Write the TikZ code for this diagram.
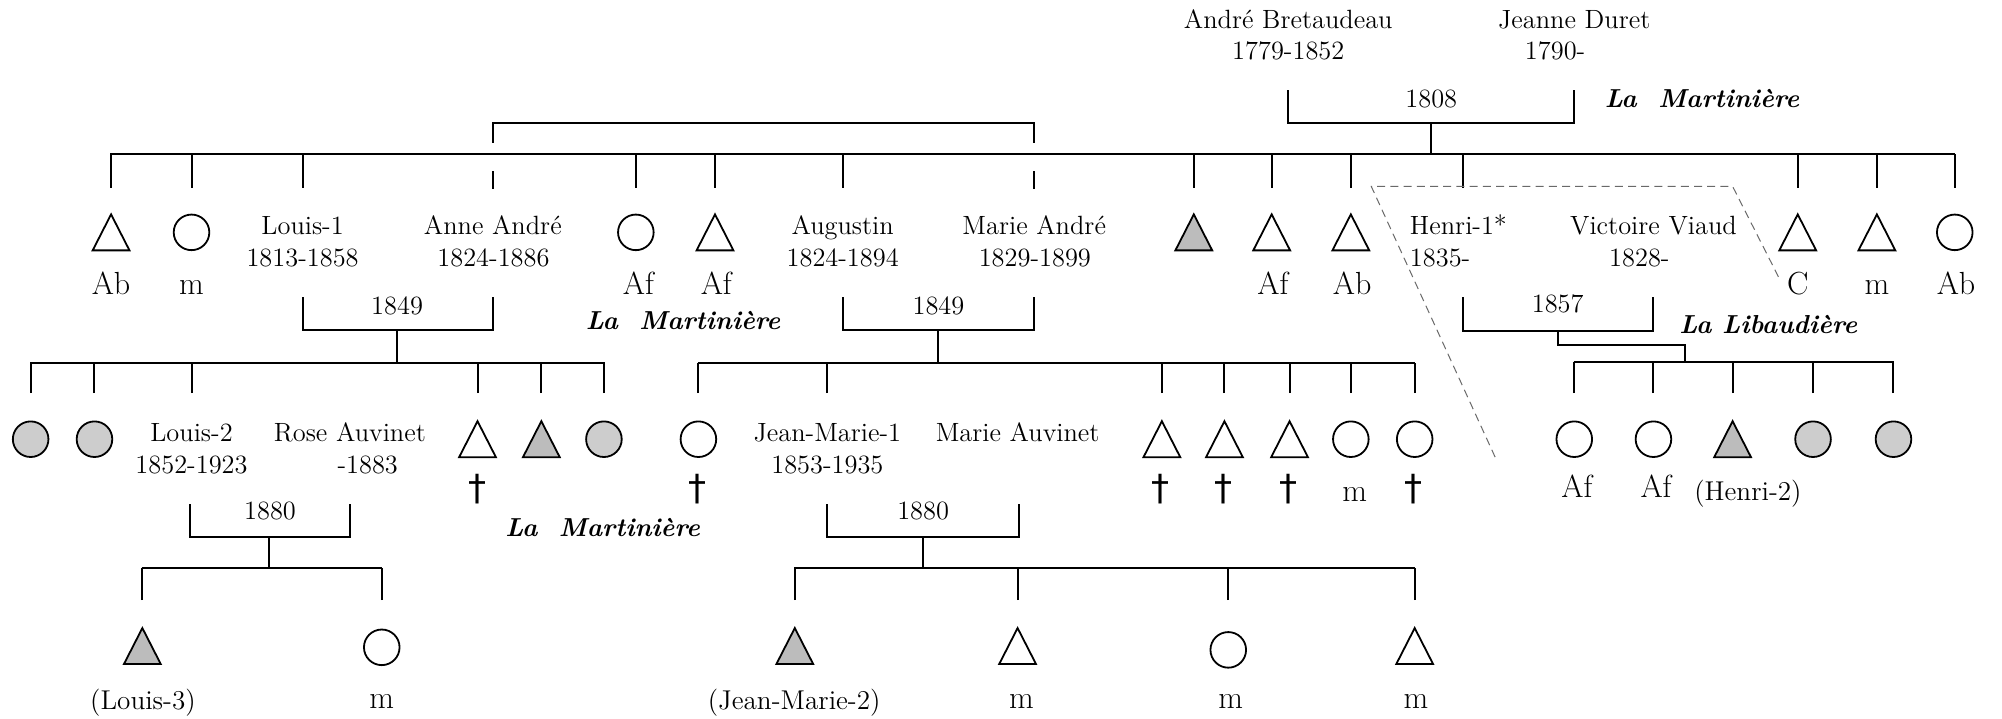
\documentclass[tikz,border=0pt]{standalone}
\usepackage{fontspec}
\newfontfamily\dagfont{DejaVu Sans}
\definecolor{cgray}{RGB}{205,205,205}
\definecolor{sgray}{RGB}{188,188,188}
\definecolor{dgray}{RGB}{105,105,105}
\begin{document}
\begin{tikzpicture}[x=0.6384pt,y=-0.6384pt,
  conn/.style={line width=1pt},
  nm/.style={font=\fontsize{13.2}{16}\selectfont, inner sep=0, anchor=base},
  nmw/.style={nm, anchor=base west},
  lbl/.style={font=\fontsize{16}{19}\selectfont, inner sep=0, anchor=base},
  sml/.style={font=\fontsize{13.6}{16}\selectfont, inner sep=0, anchor=base},
  place/.style={font=\fontsize{13}{16}\selectfont\bfseries\itshape, inner sep=0, anchor=base},
  circ/.style={circle, draw, line width=0.9pt, minimum size=17.8pt, inner sep=0},
  gcirc/.style={circ, fill=cgray},
  trinode/.style={minimum width=18pt, minimum height=17.6pt, inner sep=0},
  triline/.style={line width=0.9pt},
  dag/.style={font=\dagfont\fontsize{18}{18}\selectfont, inner sep=0},
  dashline/.style={dgray, line width=0.5pt, dash pattern=on 4pt off 2.6pt},
]
\useasboundingbox (0,0) rectangle (1568,563);

% ---------- generation 0 ----------
\node[nm] (ab1) at (1009,22) {André Bretaudeau};
\node[nm] (ab2) at (1009,47) {1779-1852};
\node[nm] (jd1) at (1233,22) {Jeanne Duret};
\node[nm] (jd2) at (1218,47) {1790-};
\coordinate (m0l) at (1009,70.5); \coordinate (m0bl) at (1009,96);
\coordinate (m0r) at (1233,70.5); \coordinate (m0br) at (1233,96);
\draw[conn] (m0l) -- (m0bl) -- (m0br) -- (m0r);
\node[nm] (y1808) at (1121,84) {1808};
\node[place] (pl1) at (1333,84) {La\ \ Martinière};
\coordinate (m0c) at (1121,96); \coordinate (s0) at (1121,121);
\draw[conn] (m0c) -- (s0);

% main sibling line
\coordinate (s0L) at (86.5,121); \coordinate (s0R) at (1531.5,121);
\draw[conn] (s0L) -- (s0R);
\foreach \x in {87,150,237,498,560,660,935,996,1058,1146,1408,1470,1531}{
  \coordinate (d1-\x) at (\x,147);
  \draw[conn] (d1-\x) -- (d1-\x |- s0);
}
% bracket linking the two André sisters
\coordinate (tb1) at (386,96); \coordinate (tb1e) at (386,112);
\coordinate (tb1f) at (386,134); \coordinate (tb1g) at (386,148);
\coordinate (tb2) at (810,96); \coordinate (tb2e) at (810,112);
\coordinate (tb2f) at (810,134); \coordinate (tb2g) at (810,148);
\draw[conn] (tb1e) -- (tb1) -- (tb2) -- (tb2e);
\draw[conn] (tb1f) -- (tb1g);
\draw[conn] (tb2f) -- (tb2g);

% ---------- generation 1 ----------
\node[trinode] (t1a) at (87,182) {};
\node[circ] (c1b) at (150,182) {};
\node[circ] (c1c) at (498,182) {};
\node[trinode] (t1d) at (560,182) {};
\node[trinode] (t1e) at (935,182) {};
\node[trinode] (t1f) at (996,182) {};
\node[trinode] (t1g) at (1058,182) {};
\node[trinode] (t1h) at (1408,182) {};
\node[trinode] (t1i) at (1470,182) {};
\node[circ] (c1j) at (1531,182) {};
\foreach \n in {t1a,t1d,t1f,t1g,t1h,t1i}
  \draw[triline] (\n.south west) -- (\n.south east) -- (\n.north) -- cycle;
\draw[triline, fill=sgray] (t1e.south west) -- (t1e.south east) -- (t1e.north) -- cycle;

\node[lbl] (l1a) at (87,231) {Ab};
\node[lbl] (l1b) at (150,231) {m};
\node[lbl] (l1c) at (500,231) {Af};
\node[lbl] (l1d) at (561,231) {Af};
\node[lbl] (l1f) at (997,231) {Af};
\node[lbl] (l1g) at (1059,231) {Ab};
\node[lbl] (l1h) at (1408,231) {C};
\node[lbl] (l1i) at (1470,231) {m};
\node[lbl] (l1j) at (1532,231) {Ab};

\node[nm] (n1a) at (237,184) {Louis-1};
\node[nm] (n1a2) at (237,209) {1813-1858};
\node[nm] (n1b) at (386,184) {Anne André};
\node[nm] (n1b2) at (386.5,209) {1824-1886};
\node[nm] (n1c) at (660,184) {Augustin};
\node[nm] (n1c2) at (660,209) {1824-1894};
\node[nm] (n1d) at (810,184) {Marie André};
\node[nm] (n1d2) at (810.5,209) {1829-1899};
\node[nmw] (n1e) at (1104,184) {Henri-1*};
\node[nmw] (n1e2) at (1104,209) {1835-};
\node[nm] (n1f) at (1295,184) {Victoire Viaud};
\node[nm] (n1f2) at (1284,209) {1828-};

% marriage brackets
\coordinate (b1a) at (237,233); \coordinate (b1b) at (237,258.5);
\coordinate (b1c) at (386,258.5); \coordinate (b1d) at (386,233);
\draw[conn] (b1a) -- (b1b) -- (b1c) -- (b1d);
\node[nm] (y1849a) at (311,246) {1849};
\coordinate (b1m) at (311,258.5); \coordinate (s1) at (311,284);
\draw[conn] (b1m) -- (s1);

\coordinate (b2a) at (660,233); \coordinate (b2b) at (660,258.5);
\coordinate (b2c) at (810,258.5); \coordinate (b2d) at (810,233);
\draw[conn] (b2a) -- (b2b) -- (b2c) -- (b2d);
\node[nm] (y1849b) at (735,246) {1849};
\coordinate (b2m) at (735,258.5); \coordinate (s2) at (735,284);
\draw[conn] (b2m) -- (s2);

\coordinate (b3a) at (1146,233); \coordinate (b3b) at (1146,259);
\coordinate (b3c) at (1295,259); \coordinate (b3d) at (1295,233);
\draw[conn] (b3a) -- (b3b) -- (b3c) -- (b3d);
\node[nm] (y1857) at (1220,245) {1857};
\coordinate (b3m) at (1220,259); \coordinate (b3k) at (1220,270);
\coordinate (b3l) at (1320,270); \coordinate (s3) at (1320,283.5);
\draw[conn] (b3m) -- (b3k) -- (b3l) -- (s3);

\node[place] (pl2) at (535,258) {La\ \ Martinière};
\node[place] (pl4) at (1385,261) {La Libaudière};

% dashed outline
\coordinate (dp1) at (1171,358); \coordinate (dp2) at (1074,146);
\coordinate (dp3) at (1357,146); \coordinate (dp4) at (1393,217);
\draw[dashline] (dp1) -- (dp2) -- (dp3) -- (dp4);

% ---------- generation 2 ----------
\coordinate (s1L) at (23.5,284); \coordinate (s1R) at (473.5,284);
\draw[conn] (s1L) -- (s1R);
\foreach \x in {24,74,150,374,424,473}{
  \coordinate (d2-\x) at (\x,308);
  \draw[conn] (d2-\x) -- (d2-\x |- s1);
}
\coordinate (s2L) at (546.5,284); \coordinate (s2R) at (1108.5,284);
\draw[conn] (s2L) -- (s2R);
\foreach \x in {547,648,910,959,1010,1058,1108}{
  \coordinate (d3-\x) at (\x,308);
  \draw[conn] (d3-\x) -- (d3-\x |- s2);
}
\coordinate (s3L) at (1232.5,283.5); \coordinate (s3R) at (1483.5,283.5);
\draw[conn] (s3L) -- (s3R);
\foreach \x in {1233,1295,1357,1420,1483}{
  \coordinate (d4-\x) at (\x,308);
  \draw[conn] (d4-\x) -- (d4-\x |- s3);
}

\node[gcirc] (c2a) at (24,344) {};
\node[gcirc] (c2b) at (74,344) {};
\node[trinode] (t2c) at (374,344) {};
\node[trinode] (t2d) at (424,344) {};
\node[gcirc] (c2e) at (473,344) {};
\node[circ] (c2f) at (547,344) {};
\node[trinode] (t2g) at (910,344) {};
\node[trinode] (t2h) at (959,344) {};
\node[trinode] (t2i) at (1010,344) {};
\node[circ] (c2j) at (1058,344) {};
\node[circ] (c2k) at (1108,344) {};
\node[circ] (c2l) at (1233,344) {};
\node[circ] (c2m) at (1295,344) {};
\node[trinode] (t2n) at (1357,344) {};
\node[gcirc] (c2o) at (1420,344) {};
\node[gcirc] (c2p) at (1483,344) {};
\foreach \n in {t2c,t2g,t2h,t2i}
  \draw[triline] (\n.south west) -- (\n.south east) -- (\n.north) -- cycle;
\foreach \n in {t2d,t2n}
  \draw[triline, fill=sgray] (\n.south west) -- (\n.south east) -- (\n.north) -- cycle;

\node[dag] (dg2c) at (374,383) {†};
\node[dag] (dg2f) at (546,383) {†};
\node[dag] (dg2g) at (909,383) {†};
\node[dag] (dg2h) at (958,383) {†};
\node[dag] (dg2i) at (1009,383) {†};
\node[dag] (dg2k) at (1107,383) {†};
\node[lbl] (l2j) at (1061,393) {m};
\node[lbl] (l2l) at (1235,390) {Af};
\node[lbl] (l2m) at (1297,390) {Af};
\node[sml] (l2n) at (1369,392) {(Henri-2)};

\node[nm] (n2a) at (150,346) {Louis-2};
\node[nm] (n2a2) at (150,370.5) {1852-1923};
\node[nm] (n2b) at (274,346) {Rose Auvinet};
\node[nm] (n2b2) at (288,370.5) {-1883};
\node[nm] (n2c) at (648,346) {Jean-Marie-1};
\node[nm] (n2c2) at (648,370.5) {1853-1935};
\node[nm] (n2d) at (797,346) {Marie Auvinet};

\coordinate (b4a) at (149,395); \coordinate (b4b) at (149,420.5);
\coordinate (b4c) at (274,420.5); \coordinate (b4d) at (274,395);
\draw[conn] (b4a) -- (b4b) -- (b4c) -- (b4d);
\node[nm] (y1880a) at (211.5,407) {1880};
\coordinate (b4m) at (211,420.5); \coordinate (s4) at (211,445);
\draw[conn] (b4m) -- (s4);

\coordinate (b5a) at (648,395); \coordinate (b5b) at (648,420.5);
\coordinate (b5c) at (798,420.5); \coordinate (b5d) at (798,395);
\draw[conn] (b5a) -- (b5b) -- (b5c) -- (b5d);
\node[nm] (y1880b) at (723,407) {1880};
\coordinate (b5m) at (723,420.5); \coordinate (s5) at (723,445);
\draw[conn] (b5m) -- (s5);

\node[place] (pl3) at (472,420.5) {La\ \ Martinière};

% ---------- generation 3 ----------
\coordinate (s4L) at (111,445); \coordinate (s4R) at (299.5,445);
\draw[conn] (s4L) -- (s4R);
\foreach \x/\n in {111.5/a,299/b}{
  \coordinate (d5\n) at (\x,470);
  \draw[conn] (d5\n) -- (d5\n |- s4);
}
\coordinate (s5L) at (622,445); \coordinate (s5R) at (1108.5,445);
\draw[conn] (s5L) -- (s5R);
\foreach \x/\n in {622.5/a,797/b,962/c,1108/d}{
  \coordinate (d6\n) at (\x,470);
  \draw[conn] (d6\n) -- (d6\n |- s5);
}

\node[trinode] (t3a) at (111.5,506) {};
\node[circ] (c3b) at (299,507) {};
\node[trinode] (t3c) at (622.5,506) {};
\node[trinode] (t3d) at (797,506) {};
\node[circ] (c3e) at (962,509) {};
\node[trinode] (t3f) at (1108,506) {};
\foreach \n in {t3d,t3f}
  \draw[triline] (\n.south west) -- (\n.south east) -- (\n.north) -- cycle;
\foreach \n in {t3a,t3c}
  \draw[triline, fill=sgray] (\n.south west) -- (\n.south east) -- (\n.north) -- cycle;

\node[sml] (l3a) at (112,556) {(Louis-3)};
\node[lbl] (l3b) at (299,555) {m};
\node[sml] (l3c) at (622,556) {(Jean-Marie-2)};
\node[lbl] (l3d) at (800,555) {m};
\node[lbl] (l3e) at (964,555) {m};
\node[lbl] (l3f) at (1109,555) {m};
\end{tikzpicture}
\end{document}
